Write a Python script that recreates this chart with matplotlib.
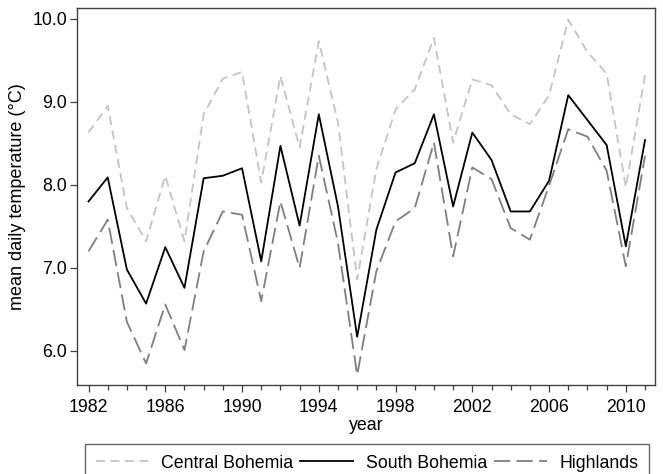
import matplotlib
matplotlib.use("Agg")
import matplotlib.pyplot as plt
from matplotlib.ticker import MultipleLocator, FormatStrFormatter

plt.rcParams['font.family'] = ['Liberation Sans', 'DejaVu Sans']

years = list(range(1982, 2012))
central_bohemia = [8.63, 8.95, 7.72, 7.32, 8.11, 7.32, 8.85, 9.28, 9.36, 8.03,
                   9.31, 8.45, 9.73, 8.75, 6.86, 8.19, 8.91, 9.15, 9.77, 8.51,
                   9.27, 9.20, 8.85, 8.73, 9.08, 9.99, 9.60, 9.34, 7.97, 9.32]
south_bohemia = [7.80, 8.09, 6.98, 6.57, 7.25, 6.76, 8.08, 8.11, 8.20, 7.08,
                 8.47, 7.51, 8.85, 7.74, 6.17, 7.46, 8.15, 8.26, 8.85, 7.74,
                 8.63, 8.30, 7.68, 7.68, 8.05, 9.08, 8.78, 8.48, 7.26, 8.54]
highlands = [7.20, 7.58, 6.35, 5.85, 6.56, 6.01, 7.20, 7.68, 7.64, 6.60,
             7.80, 7.00, 8.35, 7.30, 5.71, 6.96, 7.56, 7.72, 8.51, 7.14,
             8.21, 8.07, 7.48, 7.34, 7.99, 8.67, 8.58, 8.17, 7.02, 8.35]
series_names = ["Central Bohemia", "South Bohemia", "Highlands"]

W, H = 663, 474
fig = plt.figure(figsize=(W / 100, H / 100), dpi=100)
ax = fig.add_axes([77 / W, 1 - 385 / H, (655 - 77) / W, (385 - 8) / H])

ax.plot(years, central_bohemia, color='#c4c4c4', lw=1.3, dashes=(5, 3),
        label=series_names[0])
ax.plot(years, south_bohemia, color='black', lw=1.3, label=series_names[1])
ax.plot(years, highlands, color='#7f7f7f', lw=1.3, dashes=(9, 3.5),
        label=series_names[2])

ax.set_xlim(1981.4, 2011.52)
ax.set_ylim(5.59, 10.13)
ax.xaxis.set_major_locator(MultipleLocator(4))
ax.xaxis.set_minor_locator(MultipleLocator(1))
ax.yaxis.set_major_locator(MultipleLocator(1.0))
ax.yaxis.set_major_formatter(FormatStrFormatter('%.1f'))
ax.set_xticks(range(1982, 2012, 4))

for s in ax.spines.values():
    s.set_color('#404040')
    s.set_linewidth(1.0)
ax.tick_params(axis='both', which='major', length=5, width=0.9, color='#404040',
               labelsize=12.8, pad=3)
ax.tick_params(axis='x', which='major', pad=5)
ax.tick_params(axis='y', which='major', pad=2)
ax.tick_params(axis='x', which='minor', length=3.5, width=0.9, color='#404040')
ax.set_xlabel('year', fontsize=12.8, labelpad=1)
ax.set_ylabel('mean daily temperature (°C)', fontsize=13, labelpad=5)

leg = fig.legend(loc='upper left', bbox_to_anchor=(85 / W, 1 - 444 / H, (649 - 85) / W, 0.0),
                 mode='expand', ncol=3, fontsize=12.8, frameon=True, fancybox=False,
                 handlelength=3.0, handletextpad=0.7, borderpad=0.6,
                 columnspacing=0.4, borderaxespad=0)
leg.get_frame().set_edgecolor('#404040')
leg.get_frame().set_linewidth(1.0)

fig.savefig('out.png', dpi=100)
